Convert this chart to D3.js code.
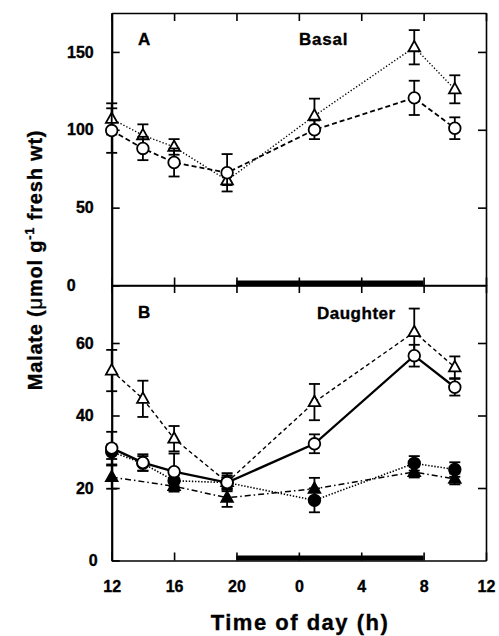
<!DOCTYPE html>
<html>
<head>
<meta charset="utf-8">
<script src="https://cdn.jsdelivr.net/npm/d3@7"></script>
<style>
  html, body { margin: 0; padding: 0; background: #fff; }
  svg { display: block; }
  text { font-family: "Liberation Sans", Arial, Helvetica, sans-serif; font-weight: bold; fill: #000; stroke: #000; stroke-width: 0.35px; }
</style>
</head>
<body>
<svg id="chart" width="499" height="636"></svg>
<script>
// ---------- DATA ----------
const hours = [12, 14, 16, 19.4, 25, 31.4, 34];
const hoursFilledTri = [12, 16, 19.4, 25, 31.4, 34];

// Panel A (Basal)
const basalTri = [107, 96.5, 89, 67.5, 109, 153, 126];
const basalTriErr = [10, 7, 5, 3, 11, 11, 9];
const basalCirc = [99.5, 88, 79, 72.4, 100, 120.5, 101];
const basalCircErr = [14.3, 7.5, 9, 12, 6, 11, 7];

// Panel B (Daughter)
const daughterOpenTri = [52.4, 44.6, 33.6, 21.6, 43.7, 63, 53.3];
const daughterOpenTriErr = [5.7, 5, 3.5, 2.5, 5, 6.5, 3];
const daughterOpenCirc = [31, 27, 24.5, 21.5, 32.2, 56.5, 47.8];
const daughterOpenCircErr = [4.5, 2.3, 5, 2, 2.6, 3, 2.3];
const daughterFilledCirc = [30, 26.8, 22, 21.5, 16.6, 26.8, 25.1];
const daughterFilledCircErr = [2, 2, 1.5, 1.5, 3.3, 2, 2];
const daughterFilledTri = [23, 20.5, 17.3, 19.8, 24.4, 22.5];
const daughterFilledTriErr = [3.2, 1.5, 2.5, 3, 1.5, 1.5];

const xTickValues = [12, 16, 20, 24, 28, 32, 36];
const xTickLabels = ["12", "16", "20", "0", "4", "8", "12"];
const yTicksA = [0, 50, 100, 150];
const yTicksB = [0, 20, 40, 60];
const darkPeriod = [20, 32];

// ---------- LAYOUT ----------
const svg = d3.select("#chart");
const left = 111.7, right = 486;
const x = d3.scaleLinear().domain([12, 36]).range([left, right]);
const yA = d3.scaleLinear().domain([0, 175]).range([285.5, 13]);
const yB = d3.scaleLinear().domain([0, 76]).range([560.5, 285]);

function frameAxes(y, ticks, zeroShift, showX) {
  const g = svg.append("g");
  const la = g.append("g").attr("transform", `translate(${left},0)`)
    .call(d3.axisLeft(y).tickValues(ticks).tickSize(-8).tickSizeOuter(0).tickPadding(18).tickFormat(d3.format("d")));
  la.selectAll("text").style("font-size", "16px").attr("font-family", null)
    .attr("dx", d => d === 0 ? zeroShift : 0);
  la.select("path.domain").attr("stroke-width", 2.2);
  g.append("g").attr("transform", `translate(${right},0)`)
    .call(d3.axisRight(y).tickValues(ticks.filter(t => t > 0)).tickSize(-8).tickSizeOuter(0).tickFormat(""))
    .select("path.domain").attr("stroke-width", 1.6);
  g.append("g").attr("transform", `translate(0,${y.range()[1]})`)
    .call(d3.axisTop(x).tickValues(xTickValues).tickSize(-8).tickSizeOuter(0).tickFormat(""))
    .select("path.domain").attr("stroke-width", 1.6);
  const ba = g.append("g").attr("transform", `translate(0,${y.range()[0]})`)
    .call(d3.axisBottom(x).tickValues(xTickValues).tickSize(-8).tickSizeOuter(0).tickPadding(20)
      .tickFormat((d, i) => showX ? xTickLabels[i] : ""));
  ba.selectAll("text").style("font-size", "16px").attr("font-family", null);
  ba.select("path.domain").attr("stroke-width", 1.6);
  g.selectAll(".tick line").attr("stroke-width", 1.6);
  // dark period bar
  g.append("rect")
    .attr("x", x(darkPeriod[0])).attr("width", x(darkPeriod[1]) - x(darkPeriod[0]))
    .attr("y", y(0) - 5).attr("height", 5).attr("fill", "#000");
}
frameAxes(yA, yTicksA, -18, false);
frameAxes(yB, yTicksB, 4, true);

// ---------- SERIES ----------
const triPath = "M0,-6.4L5.8,4L-5.8,4Z";

function series(y, xs, vals, errs, opt) {
  const g = svg.append("g");
  const pts = xs.map((h, i) => ({ h, v: vals[i], e: errs[i] }));
  g.append("path").datum(pts)
    .attr("d", d3.line().x(d => x(d.h)).y(d => y(d.v)))
    .attr("fill", "none").attr("stroke", "#000")
    .attr("stroke-width", opt.lw).attr("stroke-dasharray", opt.dash || null);
  const eb = g.selectAll("g.eb").data(pts).join("g");
  eb.append("line").attr("x1", d => x(d.h)).attr("x2", d => x(d.h))
    .attr("y1", d => y(d.v - d.e)).attr("y2", d => y(d.v + d.e))
    .attr("stroke", "#000").attr("stroke-width", 1.8);
  [-1, 1].forEach(s => {
    eb.append("line").attr("x1", d => x(d.h) - 5.5).attr("x2", d => x(d.h) + 5.5)
      .attr("y1", d => y(d.v + s * d.e)).attr("y2", d => y(d.v + s * d.e))
      .attr("stroke", "#000").attr("stroke-width", 1.8);
  });
  return { g, pts };
}
function markers(s, y, shape, fill) {
  const m = s.g.selectAll("g.mk").data(s.pts).join("g")
    .attr("transform", d => `translate(${x(d.h)},${y(d.v)})`);
  if (shape === "circle") m.append("circle").attr("r", 5.8);
  else m.append("path").attr("d", triPath);
  m.selectAll("circle,path").attr("fill", fill).attr("stroke", "#000").attr("stroke-width", 1.8);
}

// Panel A
const aT = series(yA, hours, basalTri, basalTriErr, { lw: 1.4, dash: "1.3,2" });
const aC = series(yA, hours, basalCirc, basalCircErr, { lw: 1.8, dash: "5,3" });
markers(aT, yA, "tri", "#fff");
markers(aC, yA, "circle", "#fff");

// Panel B
const bFT = series(yB, hoursFilledTri, daughterFilledTri, daughterFilledTriErr, { lw: 1.5, dash: "6,3,1.5,3" });
const bFC = series(yB, hours, daughterFilledCirc, daughterFilledCircErr, { lw: 1.6, dash: "1.4,1.7" });
const bOT = series(yB, hours, daughterOpenTri, daughterOpenTriErr, { lw: 1.4, dash: "4,3" });
const bOC = series(yB, hours, daughterOpenCirc, daughterOpenCircErr, { lw: 2.3 });
markers(bFT, yB, "tri", "#000");
markers(bFC, yB, "circle", "#000");
markers(bOT, yB, "tri", "#fff");
markers(bOC, yB, "circle", "#fff");

// ---------- TEXT ----------
svg.append("text").attr("x", 138).attr("y", 45).style("font-size", "17px").text("A");
svg.append("text").attr("x", 299).attr("y", 45).style("font-size", "17px").style("letter-spacing", "0.8px").text("Basal");
svg.append("text").attr("x", 138).attr("y", 318).style("font-size", "17px").text("B");
svg.append("text").attr("x", 317).attr("y", 319).style("font-size", "17px").style("letter-spacing", "0.5px").text("Daughter");

svg.append("text").attr("x", 300).attr("y", 630).attr("text-anchor", "middle")
  .style("font-size", "22px").style("letter-spacing", "1.5px").text("Time of day (h)");

const yt = svg.append("text").attr("transform", "translate(42,260) rotate(-90)")
  .attr("text-anchor", "middle").style("font-size", "20px").style("letter-spacing", "0.8px");
yt.append("tspan").text("Malate (");
yt.append("tspan").style("font-weight", "normal").text("μ");
yt.append("tspan").text("mol g");
yt.append("tspan").attr("dy", -8).style("font-size", "13px").text("-1");
yt.append("tspan").attr("dy", 8).text(" fresh wt)");
</script>
</body>
</html>
